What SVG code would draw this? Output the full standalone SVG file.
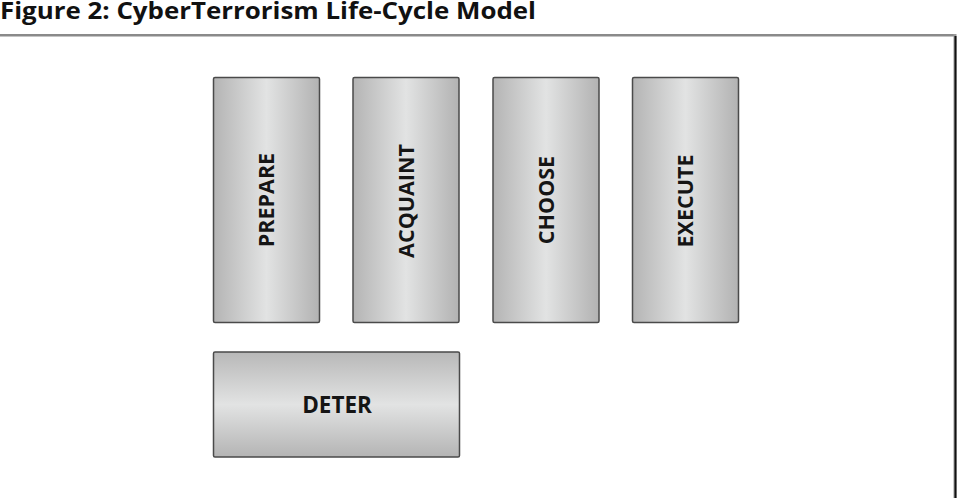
<svg xmlns="http://www.w3.org/2000/svg" width="959" height="498" viewBox="0 0 959 498">
  <style>
    .title { font-family: "Open Sans", "DejaVu Sans", sans-serif; font-weight: bold; font-size: 23px; fill: #111; }
    .stage { stroke: #4a4a4a; stroke-width: 1.5; }
    .label { font-family: "Open Sans", "DejaVu Sans", sans-serif; font-weight: bold; font-size: 21.5px; fill: #151515; text-anchor: middle; }
    .wide { font-size: 22.5px; }
  </style>
  <defs>
    <linearGradient id="gradV" x1="0" y1="0" x2="1" y2="0">
      <stop offset="0" stop-color="#b4b4b4"/>
      <stop offset="0.5" stop-color="#e2e3e3"/>
      <stop offset="1" stop-color="#b2b2b2"/>
    </linearGradient>
    <linearGradient id="gradH" x1="0" y1="0" x2="0" y2="1">
      <stop offset="0" stop-color="#b8b8b8"/>
      <stop offset="0.5" stop-color="#e2e3e3"/>
      <stop offset="1" stop-color="#b4b4b4"/>
    </linearGradient>
  </defs>
  <rect width="959" height="498" fill="#ffffff"/>

  <!-- title and frame -->
  <text class="title" x="0" y="18.5" textLength="536" lengthAdjust="spacingAndGlyphs">Figure 2: CyberTerrorism Life-Cycle Model</text>
  <rect x="0" y="34" width="956" height="2.5" fill="#8a8a8a"/>
  <rect x="953.5" y="34" width="3" height="464" fill="#9a9a9a"/>
  <rect x="954.5" y="36" width="2" height="462" fill="#111"/>

  <!-- life-cycle stages -->
  <g id="prepare">
    <rect class="stage" x="213.5" y="77.5" width="106" height="245" rx="1.5" fill="url(#gradV)"/>
    <text class="label" transform="translate(274,200) rotate(-90)">PREPARE</text>
  </g>
  <g id="acquaint">
    <rect class="stage" x="353" y="77.5" width="106" height="245" rx="1.5" fill="url(#gradV)"/>
    <text class="label" transform="translate(414,201) rotate(-90)">ACQUAINT</text>
  </g>
  <g id="choose">
    <rect class="stage" x="493" y="77.5" width="106" height="245" rx="1.5" fill="url(#gradV)"/>
    <text class="label" transform="translate(554,200) rotate(-90)">CHOOSE</text>
  </g>
  <g id="execute">
    <rect class="stage" x="632.5" y="77.5" width="106" height="245" rx="1.5" fill="url(#gradV)"/>
    <text class="label" transform="translate(693,201) rotate(-90)">EXECUTE</text>
  </g>
  <g id="deter">
    <rect class="stage" x="213.5" y="352" width="246" height="105" rx="1.5" fill="url(#gradH)"/>
    <text class="label wide" x="337" y="413">DETER</text>
  </g>

  <g id="connectors"></g>
</svg>
